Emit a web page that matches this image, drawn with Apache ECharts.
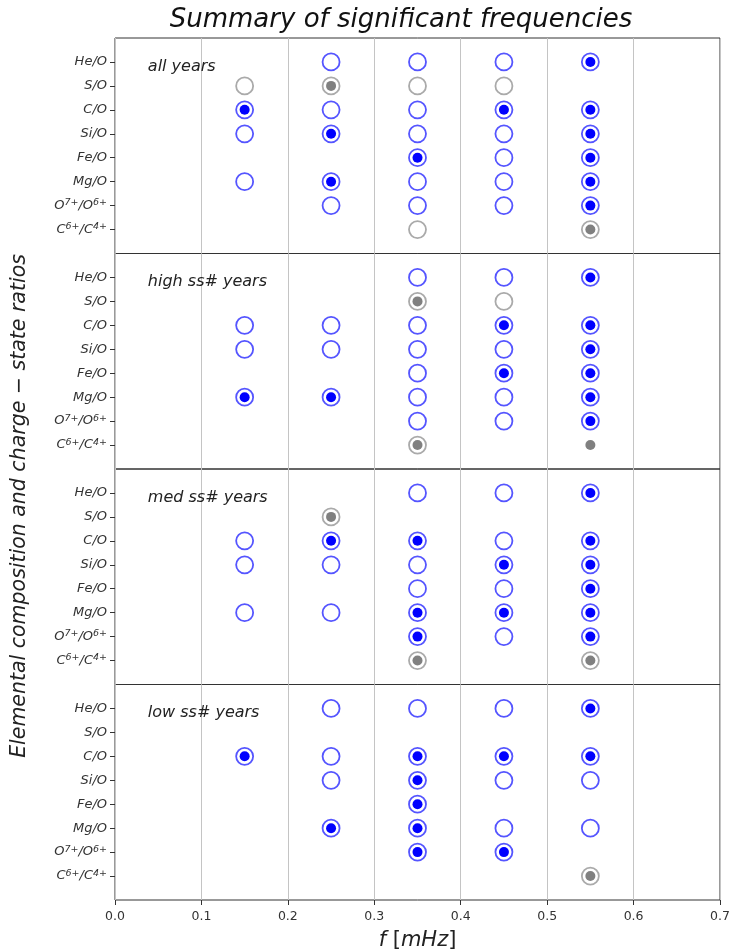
<!DOCTYPE html>
<html><head><meta charset="utf-8">
<script src="https://cdn.jsdelivr.net/npm/echarts@6/dist/echarts.min.js"></script>
<style>html,body{margin:0;padding:0;background:#fff}#c{width:730px;height:952px}</style>
</head><body><div id="c"></div>
<script>
const rows = ['He/O','S/O','C/O','Si/O','Fe/O','Mg/O','O{s|7+}/O{s|6+}','C{s|6+}/C{s|4+}'];
const freqs = [0.15,0.25,0.35,0.45,0.55];
const xTicks = [0,0.1,0.2,0.3,0.4,0.5,0.6,0.7];
const panelLabels = ['all years','high ss# years','med ss# years','low ss# years'];
// codes: 0 none, 1 blue ring, 2 blue ring + blue dot, 3 gray ring, 4 gray ring + gray dot, 5 gray dot only
const allYears = [
 [0,1,1,1,2],
 [3,4,3,3,0],
 [2,1,1,2,2],
 [1,2,1,1,2],
 [0,0,2,1,2],
 [1,2,1,1,2],
 [0,1,1,1,2],
 [0,0,3,0,4]
];
const highYears = [
 [0,0,1,1,2],
 [0,0,4,3,0],
 [1,1,1,2,2],
 [1,1,1,1,2],
 [0,0,1,2,2],
 [2,2,1,1,2],
 [0,0,1,1,2],
 [0,0,4,0,5]
];
const medYears = [
 [0,0,1,1,2],
 [0,4,0,0,0],
 [1,2,2,1,2],
 [1,1,1,2,2],
 [0,0,1,1,2],
 [1,1,2,2,2],
 [0,0,2,1,2],
 [0,0,4,0,4]
];
const lowYears = [
 [0,1,1,1,2],
 [0,0,0,0,0],
 [2,1,2,2,2],
 [0,1,2,1,1],
 [0,0,2,0,0],
 [0,2,2,1,1],
 [0,0,2,2,0],
 [0,0,0,0,4]
];
const panels = [allYears, highYears, medYears, lowYears];

const FONT = 'DejaVu Sans';
const tops = [38, 253.5, 469, 684.5];
const H = 215.5;
const grids = [], xAxes = [], yAxes = [], series = [];
panels.forEach((codes, p) => {
  const last = p === panels.length - 1;
  grids.push({left:115, width:605, top:tops[p], height:H, show:true, borderColor:'#333', borderWidth:1,
    backgroundColor:'transparent', outerBoundsMode:'none', containLabel:false});
  xAxes.push({
    type:'value', gridIndex:p, min:0, max:0.7, interval:0.1,
    axisLine:{show:false, onZero:false},
    axisTick:{show:last, length:5, lineStyle:{color:'#333'}},
    axisLabel:{show:last, color:'#333', fontFamily:FONT, fontSize:12.5, margin:10, formatter:v=>v.toFixed(1)},
    splitLine:{show:true, lineStyle:{color:'#c4c4c4', width:1}},
    name: last ? '{i|f} [{i|mHz}]' : '', nameLocation:'middle', nameGap:30,
    nameTextStyle:{fontFamily:FONT, fontSize:21, color:'#222', rich:{i:{fontStyle:'italic', fontFamily:FONT, fontSize:21, color:'#222'}}}
  });
  yAxes.push({
    type:'value', gridIndex:p, min:-1, max:8, inverse:true,
    axisLine:{show:false, onZero:false},
    axisTick:{show:true, length:5, customValues:[0,1,2,3,4,5,6,7], lineStyle:{color:'#333'}},
    axisLabel:{show:true, customValues:[0,1,2,3,4,5,6,7], formatter:v=>rows[v]||'', color:'#333',
      fontFamily:FONT, fontStyle:'italic', fontSize:13, margin:8, lineHeight:16,
      rich:{s:{fontFamily:FONT, fontStyle:'italic', fontSize:9.5, color:'#333', verticalAlign:'top', lineHeight:11}}},
    splitLine:{show:false}
  });
  const blueRing=[], blueDot=[], grayRing=[], grayDot=[];
  codes.forEach((r, ri) => r.forEach((c, fi) => {
    const pt = [freqs[fi], ri];
    if (c===1||c===2) blueRing.push(pt);
    if (c===2) blueDot.push(pt);
    if (c===3||c===4) grayRing.push(pt);
    if (c===4||c===5) grayDot.push(pt);
  }));
  const base = {type:'scatter', xAxisIndex:p, yAxisIndex:p, symbol:'circle', silent:true, animation:false};
  series.push(Object.assign({}, base, {data:blueRing, symbolSize:17, itemStyle:{opacity:1, color:'rgba(0,0,0,0)', borderColor:'#5555ff', borderWidth:1.8}}));
  series.push(Object.assign({}, base, {data:grayRing, symbolSize:17, itemStyle:{opacity:1, color:'rgba(0,0,0,0)', borderColor:'#aaaaaa', borderWidth:1.8}}));
  series.push(Object.assign({}, base, {data:blueDot, symbolSize:10, itemStyle:{opacity:1, color:'#0000ff'}}));
  series.push(Object.assign({}, base, {data:grayDot, symbolSize:10, itemStyle:{opacity:1, color:'#808080'}}));
  series.push(Object.assign({}, base, {data:[[0.038, 0.2]], symbolSize:0, itemStyle:{opacity:1},
    label:{show:true, position:'right', distance:0, formatter:panelLabels[p], fontFamily:FONT, fontStyle:'italic', fontSize:16, color:'#222'}}));
});

const chart = echarts.init(document.getElementById('c'), null, {renderer:'canvas'});
chart.setOption({
  animation:false,
  backgroundColor:'#fff',
  title:{text:'Summary of significant frequencies', left:396, top:2, textAlign:'center',
    textStyle:{fontFamily:FONT, fontStyle:'italic', fontWeight:'normal', fontSize:26, color:'#111'}},
  grid:grids, xAxis:xAxes, yAxis:yAxes, series:series,
  graphic:[{type:'text', x:20, y:506, rotation:Math.PI/2,
    style:{text:'Elemental composition and charge − state ratios', fontFamily:FONT, fontStyle:'italic', fontSize:20.5, fill:'#222', align:'center', verticalAlign:'middle'}}]
});
</script></body></html>
